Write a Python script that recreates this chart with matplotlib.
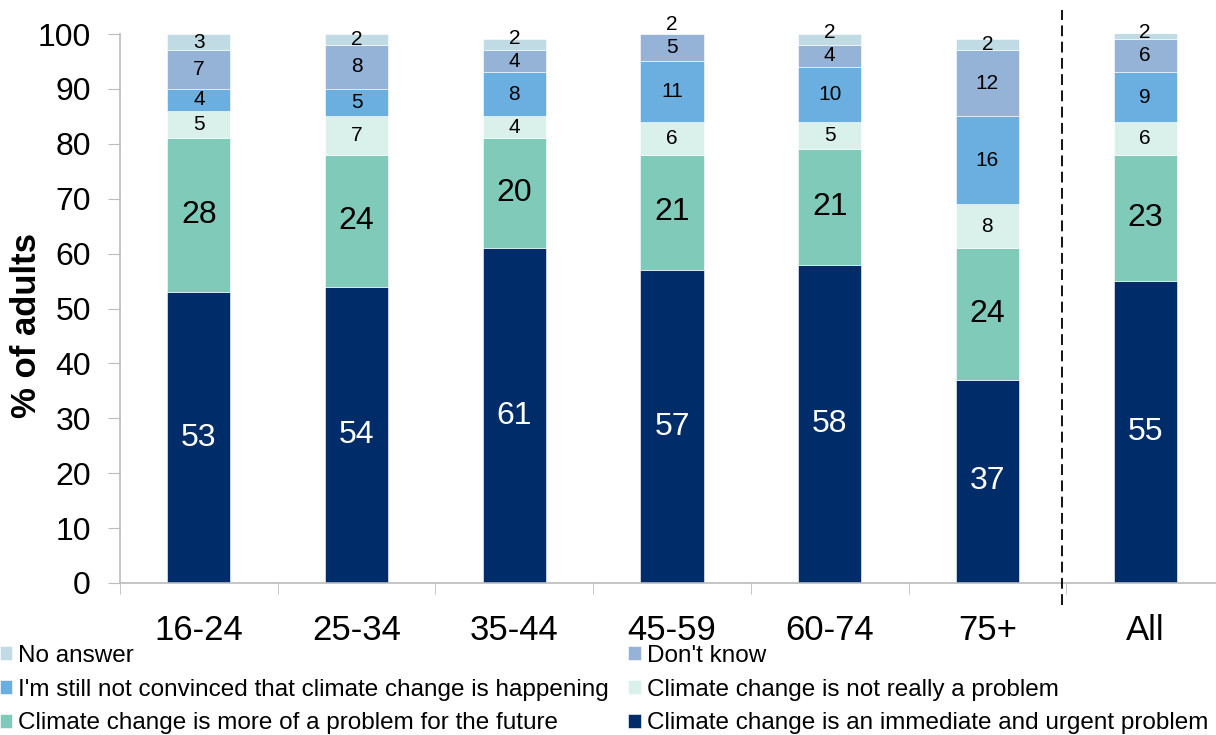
import matplotlib
matplotlib.use("Agg")
import matplotlib.pyplot as plt
from matplotlib.lines import Line2D
import numpy as np

plt.rcParams['font.family'] = ['Liberation Sans', 'DejaVu Sans']

categories = ["16-24", "25-34", "35-44", "45-59", "60-74", "75+", "All"]

immediate = [53, 54, 61, 57, 58, 37, 55]
future = [28, 24, 20, 21, 21, 24, 23]
not_really = [5, 7, 4, 6, 5, 8, 6]
not_convinced = [4, 5, 8, 11, 10, 16, 9]
dont_know = [7, 8, 4, 5, 4, 12, 6]
no_answer = [3, 2, 2, 2, 2, 2, 2]

series = [
    ("Climate change is an immediate and urgent problem", immediate, "#002D6A", "white", 23),
    ("Climate change is more of a problem for the future", future, "#80CAB9", "black", 23),
    ("Climate change is not really a problem", not_really, "#D9F0EB", "black", 15),
    ("I'm still not convinced that climate change is happening", not_convinced, "#6AAFE0", "black", 15),
    ("Don't know", dont_know, "#95B2D7", "black", 15),
    ("No answer", no_answer, "#C0DBE4", "black", 15),
]

fig = plt.figure(figsize=(12.16, 7.35), dpi=100)
ax = fig.add_axes([120 / 1216, 1 - 583 / 735, (1224 - 120) / 1216, (583 - 34) / 735])

x = np.arange(len(categories))
bottom = np.zeros(len(categories))
prev_label = np.full(len(categories), -np.inf)
min_gap = 4.2  # keep stacked small labels from colliding
handles = {}
for name, vals, color, tcolor, fs in series:
    vals = np.array(vals, dtype=float)
    bars = ax.bar(x, vals, bottom=bottom, width=0.4, color=color,
                  edgecolor="white", linewidth=0.4, zorder=2)
    handles[name] = bars
    for i, (xi, b, v) in enumerate(zip(x, bottom, vals)):
        y = max(b + v / 2, prev_label[i] + min_gap)
        ax.text(xi, y, f"{int(v)}", ha="center", va="center",
                color=tcolor, fontsize=fs, clip_on=False, zorder=3)
        prev_label[i] = y
    bottom += vals

ax.set_xlim(-0.5, len(categories) - 0.5)
ax.set_ylim(0, 100)
ax.set_yticks(np.arange(0, 101, 10))
ax.tick_params(axis="y", labelsize=23, length=9, color="#BBBBBB", pad=12)
ax.set_xticks(x)
ax.set_xticklabels(categories)
ax.set_xticks(np.arange(-0.5, len(categories), 1.0), minor=True)
ax.tick_params(axis="x", which="major", length=0, labelsize=25, pad=22)
ax.tick_params(axis="x", which="minor", length=8, color="#BBBBBB")

for s in ["top", "right"]:
    ax.spines[s].set_visible(False)
for s in ["left", "bottom"]:
    ax.spines[s].set_color("#BBBBBB")
    ax.spines[s].set_linewidth(1.2)

fig.text(27 / 1216, 1 - 326 / 735, "% of adults", rotation=90, ha="center", va="center",
         fontsize=25, fontweight="bold")

# separator between age groups and the overall total
sep = Line2D([5.47, 5.47], [-0.04, 1.044], transform=ax.get_xaxis_transform(),
             color="black", linestyle=(0, (6, 3)), linewidth=1.3, clip_on=False, zorder=4)
ax.add_line(sep)

order = ["No answer",
         "I'm still not convinced that climate change is happening",
         "Climate change is more of a problem for the future",
         "Don't know",
         "Climate change is not really a problem",
         "Climate change is an immediate and urgent problem"]
fig.legend([handles[n] for n in order], order, loc="upper left",
           bbox_to_anchor=(0.0, 0.123), ncol=2, frameon=False, fontsize=17.5,
           handlelength=0.5, handleheight=0.5, handletextpad=0.25,
           columnspacing=0.8, labelspacing=0.49, borderaxespad=0, borderpad=0)

fig.savefig("out.png", dpi=100)
